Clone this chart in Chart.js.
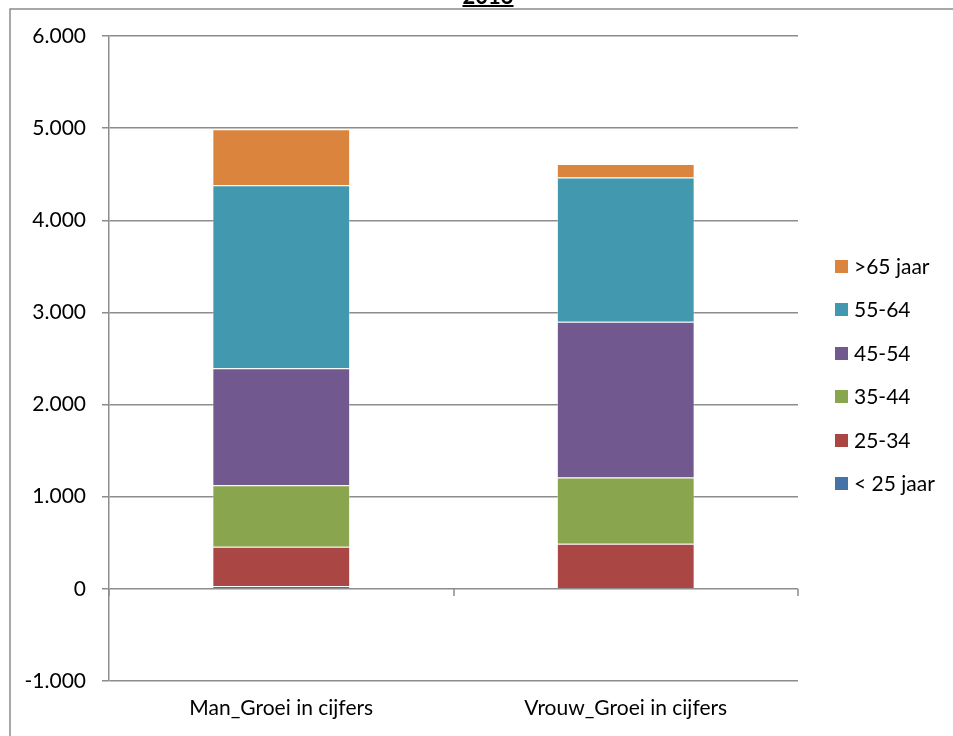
<!DOCTYPE html>
<html>
<head>
<meta charset="utf-8">
<script src="https://cdn.jsdelivr.net/npm/chart.js@4"></script>
<style>
  html, body { margin: 0; padding: 0; background: #fff; }
  #wrap { width: 953px; height: 736px; }
</style>
</head>
<body>
<div id="wrap"><canvas id="groeiChart"></canvas></div>
<script>
// categorieën en waarden per leeftijdsgroep
const categories = ['Man_Groei in cijfers', 'Vrouw_Groei in cijfers'];
const groups = ['< 25 jaar', '25-34', '35-44', '45-54', '55-64', '>65 jaar'];
const colors = ['#4572A7', '#AA4643', '#89A54E', '#71588F', '#4198AF', '#DB843D'];

const onder25 = [30, 0];
const g25_34 = [426, 489];
const g35_44 = [669, 719];
const g45_54 = [1270, 1691];
const g55_64 = [1984, 1564];
const boven65 = [608, 147];

const yTicks = { min: -1000, max: 6000, step: 1000 };
const titleText = '2013';

const seriesValues = [onder25, g25_34, g35_44, g45_54, g55_64, boven65];
const FONT = 'Lato, Carlito, Calibri, sans-serif';
const GRID = '#8c8c8c';

function fmt(v) {
  // 1000 -> 1.000
  const s = Math.abs(v).toString().replace(/\B(?=(\d{3})+(?!\d))/g, '.');
  return (v < 0 ? '-' : '') + s;
}

// kader, titel, tickjes op de nullijn en legenda
const extras = {
  id: 'extras',
  beforeDraw(chart) {
    const ctx = chart.ctx;
    ctx.save();
    ctx.strokeStyle = GRID;
    ctx.lineWidth = 1.5;
    ctx.strokeRect(10, 9, 1200, 1200);
    ctx.restore();
  },
  afterDraw(chart) {
    const ctx = chart.ctx;
    const x = chart.scales.x, y = chart.scales.y;
    ctx.save();

    // titel (grotendeels buiten beeld)
    ctx.font = 'bold 22px ' + FONT;
    ctx.fillStyle = '#000';
    ctx.textAlign = 'center';
    ctx.textBaseline = 'alphabetic';
    ctx.fillText(titleText, 488, 4);
    const tw = ctx.measureText(titleText).width;
    ctx.fillRect(488 - tw / 2, 5, tw, 2);

    // categorie-tickjes op de nullijn
    const y0 = Math.round(y.getPixelForValue(0));
    const half = (x.getPixelForValue(1) - x.getPixelForValue(0)) / 2;
    ctx.strokeStyle = GRID;
    ctx.lineWidth = 1.5;
    ctx.beginPath();
    for (let i = 0; i <= categories.length; i++) {
      const px = Math.round(x.getPixelForValue(0) - half + i * half * 2);
      ctx.moveTo(px, y0);
      ctx.lineTo(px, y0 + 7);
    }
    ctx.stroke();

    // legenda, bovenste groep eerst
    ctx.font = '21px ' + FONT;
    ctx.textAlign = 'left';
    ctx.textBaseline = 'middle';
    const sets = chart.data.datasets.slice().reverse();
    sets.forEach((ds, i) => {
      const cy = 266 + i * 43.5;
      ctx.fillStyle = ds.backgroundColor;
      ctx.fillRect(835, Math.round(cy - 6.5), 13, 13);
      ctx.fillStyle = '#000';
      ctx.fillText(ds.label, 854, cy + 1);
    });
    ctx.restore();
  }
};

new Chart(document.getElementById('groeiChart'), {
  type: 'bar',
  data: {
    labels: categories,
    datasets: groups.map((g, i) => ({
      label: g,
      data: seriesValues[i],
      backgroundColor: colors[i],
      borderColor: 'rgba(255,255,255,0.4)',
      borderWidth: 1,
      barPercentage: 0.4,
      categoryPercentage: 1
    }))
  },
  options: {
    responsive: true,
    maintainAspectRatio: false,
    animation: false,
    layout: { padding: { top: 36, right: 155, bottom: 0, left: 0 } },
    plugins: {
      legend: { display: false },
      tooltip: { enabled: false }
    },
    scales: {
      x: {
        stacked: true,
        grid: { display: false, drawTicks: false },
        border: { display: false },
        ticks: { color: '#000', font: { family: FONT, size: 21, lineHeight: 1 }, padding: 17 }
      },
      y: {
        stacked: true,
        min: yTicks.min,
        max: yTicks.max,
        afterFit(scale) { scale.width = 109; },
        grid: { color: GRID, tickLength: 7, lineWidth: 1.5 },
        border: { display: true, color: GRID, width: 1.5 },
        ticks: {
          stepSize: yTicks.step,
          color: '#000',
          padding: 16,
          font: { family: FONT, size: 21 },
          callback: v => fmt(v)
        }
      }
    }
  },
  plugins: [extras]
});
</script>
</body>
</html>
